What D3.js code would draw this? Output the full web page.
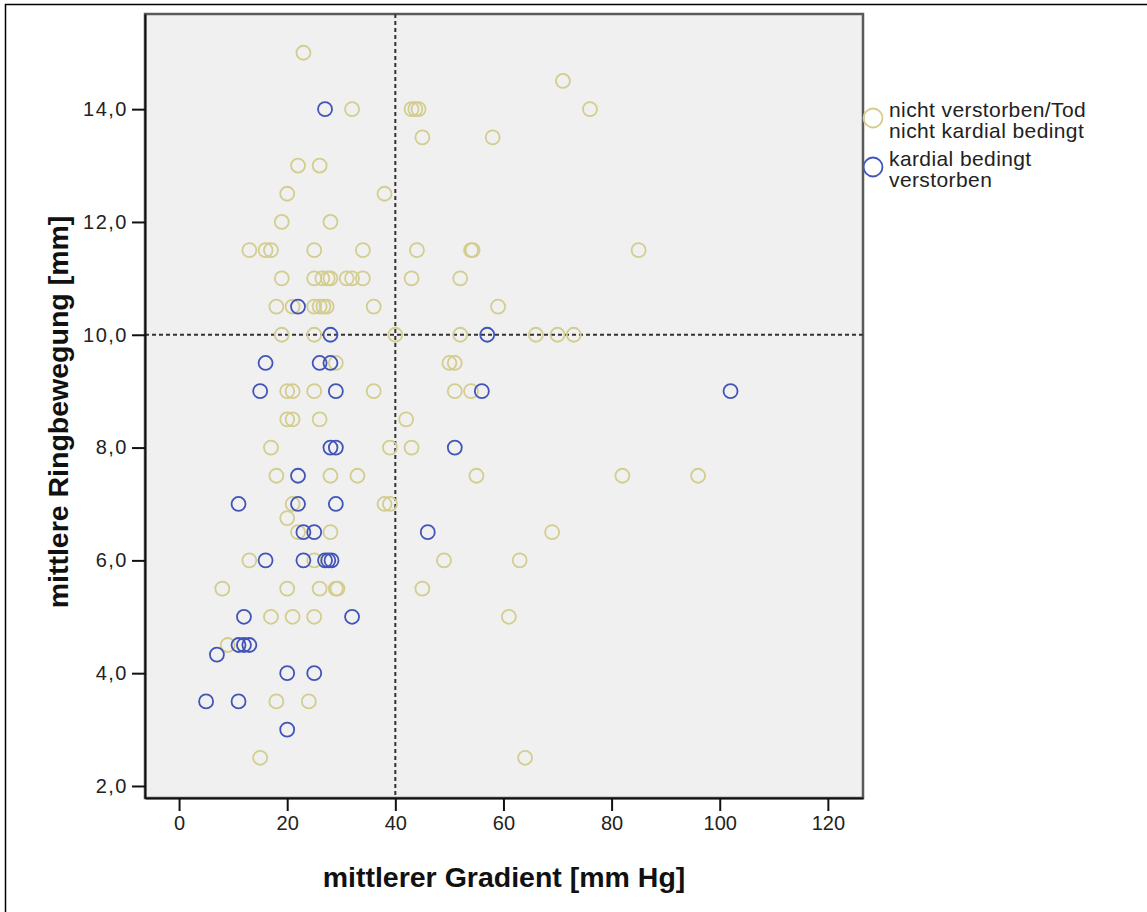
<!DOCTYPE html>
<meta charset="utf-8">
<style>
body { margin: 0; background: #fff; }
.tick text { font: 20px "Liberation Sans", Arial, sans-serif; fill: #222; }
.title { font: bold 28.5px "Liberation Sans", Arial, sans-serif; fill: #111; text-anchor: middle; }
.legend text { font: 21px "Liberation Sans", Arial, sans-serif; fill: #222; letter-spacing: 0.4px; }
</style>
<svg width="1147" height="912"></svg>
<script src="https://d3js.org/d3.v7.min.js"></script>
<script>
// mittlerer Gradient, mittlere Ringbewegung
var yellowPoints = [
  [23, 15.0], [71, 14.5],
  [32, 14.0], [43, 14.0], [43.7, 14.0], [44.3, 14.0], [76, 14.0],
  [45, 13.5], [58, 13.5],
  [22, 13.0], [26, 13.0],
  [20, 12.5], [38, 12.5],
  [19, 12.0], [28, 12.0],
  [13, 11.5], [16, 11.5], [17, 11.5], [25, 11.5], [34, 11.5], [44, 11.5], [54, 11.5], [54.3, 11.5], [85, 11.5],
  [19, 11.0], [25, 11.0], [26.5, 11.0], [27.5, 11.0], [28, 11.0], [31, 11.0], [32, 11.0], [34, 11.0], [43, 11.0], [52, 11.0],
  [18, 10.5], [21, 10.5], [25, 10.5], [26, 10.5], [26.7, 10.5], [27.3, 10.5], [36, 10.5], [59, 10.5],
  [19, 10.0], [25, 10.0], [40, 10.0], [52, 10.0], [66, 10.0], [70, 10.0], [73, 10.0],
  [29, 9.5], [50, 9.5], [51, 9.5],
  [20, 9.0], [21, 9.0], [25, 9.0], [36, 9.0], [51, 9.0], [54, 9.0],
  [20, 8.5], [21, 8.5], [26, 8.5], [42, 8.5],
  [17, 8.0], [39, 8.0], [43, 8.0],
  [18, 7.5], [28, 7.5], [33, 7.5], [55, 7.5], [82, 7.5], [96, 7.5],
  [21, 7.0], [38, 7.0], [39, 7.0],
  [20, 6.75],
  [22, 6.5], [28, 6.5], [69, 6.5],
  [13, 6.0], [25, 6.0], [49, 6.0], [63, 6.0],
  [8, 5.5], [20, 5.5], [26, 5.5], [29, 5.5], [29.3, 5.5], [45, 5.5],
  [17, 5.0], [21, 5.0], [25, 5.0], [61, 5.0],
  [9, 4.5],
  [18, 3.5], [24, 3.5],
  [15, 2.5], [64, 2.5]
];
var bluePoints = [
  [27, 14.0],
  [22, 10.5],
  [28, 10.0], [57, 10.0],
  [16, 9.5], [26, 9.5], [28, 9.5],
  [15, 9.0], [29, 9.0], [56, 9.0], [102, 9.0],
  [28, 8.0], [29, 8.0], [51, 8.0],
  [22, 7.5],
  [11, 7.0], [22, 7.0], [29, 7.0],
  [23, 6.5], [25, 6.5], [46, 6.5],
  [16, 6.0], [23, 6.0], [27, 6.0], [27.6, 6.0], [28.2, 6.0],
  [12, 5.0], [32, 5.0],
  [11, 4.5], [12, 4.5], [13, 4.5],
  [7, 4.33],
  [20, 4.0], [25, 4.0],
  [5, 3.5], [11, 3.5],
  [20, 3.0]
];
var groups = ["nicht verstorben/Tod|nicht kardial bedingt", "kardial bedingt|verstorben"];
var colors = ["#d3cd8e", "#4254b8"];
var xTicks = [0, 20, 40, 60, 80, 100, 120];
var yTicks = [2, 4, 6, 8, 10, 12, 14];
var refX = 40, refY = 10;

var svg = d3.select("svg");
var plotL = 145, plotT = 14, plotR = 863, plotB = 798;

var x = d3.scaleLinear().domain([-6.3, 126.5]).range([plotL, plotR]);
var y = d3.scaleLinear().domain([1.787, 15.687]).range([plotB, plotT]);
var fmt = d3.formatLocale({decimal: ",", thousands: ".", grouping: [3], currency: ["", ""]}).format(".1f");

// outer frame
svg.append("path")
    .attr("d", "M5.5,912V4.5H1147")
    .attr("fill", "none")
    .attr("stroke", "#000")
    .attr("stroke-width", 1.5);

svg.append("rect")
    .attr("x", plotL).attr("y", plotT)
    .attr("width", plotR - plotL).attr("height", plotB - plotT)
    .attr("fill", "#f0f0f0")
    .attr("stroke", "#5a5a5a")
    .attr("stroke-width", 2.5);

svg.append("line")
    .attr("x1", x(refX)).attr("x2", x(refX))
    .attr("y1", plotT).attr("y2", plotB)
    .attr("stroke", "#333").attr("stroke-width", 2)
    .attr("stroke-dasharray", "4,3");
svg.append("line")
    .attr("x1", plotL).attr("x2", plotR)
    .attr("y1", y(refY)).attr("y2", y(refY))
    .attr("stroke", "#333").attr("stroke-width", 2)
    .attr("stroke-dasharray", "4,3");

var xAxis = svg.append("g")
    .attr("transform", "translate(0," + plotB + ")")
    .call(d3.axisBottom(x).tickValues(xTicks).tickSize(13).tickPadding(5).tickSizeOuter(0));
var yAxis = svg.append("g")
    .attr("transform", "translate(" + plotL + ",0)")
    .call(d3.axisLeft(y).tickValues(yTicks).tickFormat(fmt).tickSize(13).tickPadding(4).tickSizeOuter(0));
svg.selectAll(".domain").attr("stroke", "#111").attr("stroke-width", 2);
svg.selectAll(".tick line").attr("stroke", "#111").attr("stroke-width", 2);
yAxis.selectAll(".tick text").attr("letter-spacing", "1.5px");

svg.append("text")
    .attr("class", "title")
    .attr("x", (plotL + plotR) / 2)
    .attr("y", 887)
    .text("mittlerer Gradient [mm Hg]");
svg.append("text")
    .attr("class", "title")
    .attr("transform", "translate(68," + ((plotT + plotB) / 2 + 6) + ") rotate(-90)")
    .text("mittlere Ringbewegung [mm]");

var dots = svg.append("g");
[yellowPoints, bluePoints].forEach(function(pts, i) {
  dots.selectAll(null)
      .data(pts)
    .enter().append("circle")
      .attr("cx", function(d) { return x(d[0]); })
      .attr("cy", function(d) { return y(d[1]); })
      .attr("r", 7)
      .attr("fill", "none")
      .attr("stroke", colors[i])
      .attr("stroke-width", 1.8);
});

var legend = svg.append("g").attr("class", "legend");
var legendY = [118, 167];
groups.forEach(function(g, i) {
  legend.append("circle")
      .attr("cx", 873).attr("cy", legendY[i])
      .attr("r", 9.5)
      .attr("fill", "none")
      .attr("stroke", colors[i])
      .attr("stroke-width", 1.8);
  g.split("|").forEach(function(line, j) {
    legend.append("text")
        .attr("x", 889)
        .attr("y", legendY[i] - 1 + j * 21)
        .text(line);
  });
});
</script>
